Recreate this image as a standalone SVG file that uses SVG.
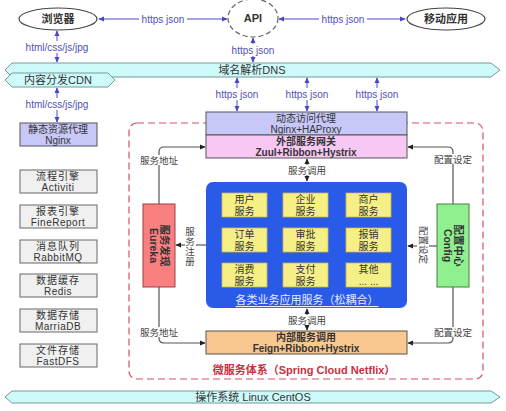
<svg xmlns="http://www.w3.org/2000/svg" width="506" height="411" viewBox="0 0 506 411">
<defs>
<style>
text{font-family:"Liberation Sans","Noto Sans CJK SC",sans-serif;text-anchor:middle;dominant-baseline:central}
.t{font-size:10px;fill:#333}
.b{font-weight:bold}
.lbl{font-size:10px;fill:#5050b8}
.gl{font-size:9.5px;fill:#444}
.bl{stroke:#4848c8;stroke-width:1;fill:none}
.gr{stroke:#555;stroke-width:1.2;fill:none}
.box{stroke:#555;stroke-width:1}
.gray{fill:#f0f0f0;stroke:#666;stroke-width:1}
.yel{fill:#f6ef86;stroke:#c8b850;stroke-width:0.8}
.band{fill:#cffafa;stroke:#6e9c9c;stroke-width:1}
.wb{fill:#fff}
</style>
<marker id="ab" viewBox="0 0 8 8" refX="7" refY="4" markerWidth="6" markerHeight="6" orient="auto-start-reverse" markerUnits="userSpaceOnUse"><path d="M0,0.5 L8,4 L0,7.5 Z" fill="#4848c8"/></marker>
<marker id="ak" viewBox="0 0 8 8" refX="7" refY="4" markerWidth="6" markerHeight="6" orient="auto-start-reverse" markerUnits="userSpaceOnUse"><path d="M0,0.5 L8,4 L0,7.5 Z" fill="#222"/></marker>
</defs>
<rect width="506" height="411" fill="#fff"/>

<!-- boundary -->
<rect x="129" y="123" width="354" height="256" rx="8" fill="none" stroke="#d85060" stroke-width="1.2" stroke-dasharray="7 4"/>
<text x="304" y="370" style="font-size:11px;fill:#c83040;font-weight:bold">微服务体系（Spring Cloud Netflix）</text>

<g id="connectors">
<line class="bl" x1="99" y1="19" x2="227" y2="19" marker-start="url(#ab)" marker-end="url(#ab)"/>
<rect class="wb" x="139" y="13" width="48" height="12"/>
<text class="lbl" x="163" y="19">https json</text>
<line class="bl" x1="279" y1="19" x2="405" y2="19" marker-start="url(#ab)" marker-end="url(#ab)"/>
<rect class="wb" x="319" y="13" width="48" height="12"/>
<text class="lbl" x="343" y="19">https json</text>

<line class="bl" x1="57" y1="31" x2="57" y2="62" marker-start="url(#ab)" marker-end="url(#ab)"/>
<rect class="wb" x="20" y="41" width="74" height="12"/>
<text class="lbl" x="57" y="47">html/css/js/jpg</text>
<line class="bl" x1="253" y1="38" x2="253" y2="62" marker-start="url(#ab)" marker-end="url(#ab)"/>
<rect class="wb" x="229" y="44" width="48" height="12"/>
<text class="lbl" x="253" y="50">https json</text>

<line class="bl" x1="57" y1="88" x2="57" y2="122" marker-start="url(#ab)" marker-end="url(#ab)"/>
<rect class="wb" x="20" y="98" width="74" height="12"/>
<text class="lbl" x="57" y="104">html/css/js/jpg</text>

<line class="bl" x1="237" y1="78" x2="237" y2="111" marker-start="url(#ab)" marker-end="url(#ab)"/>
<rect class="wb" x="213" y="88" width="48" height="12"/>
<text class="lbl" x="237" y="94">https json</text>
<line class="bl" x1="307" y1="78" x2="307" y2="111" marker-start="url(#ab)" marker-end="url(#ab)"/>
<rect class="wb" x="283" y="88" width="48" height="12"/>
<text class="lbl" x="307" y="94">https json</text>
<line class="bl" x1="377" y1="78" x2="377" y2="111" marker-start="url(#ab)" marker-end="url(#ab)"/>
<rect class="wb" x="353" y="88" width="48" height="12"/>
<text class="lbl" x="377" y="94">https json</text>

<line class="gr" x1="307" y1="159" x2="307" y2="181" stroke-width="1" marker-start="url(#ak)" marker-end="url(#ak)"/>
<rect class="wb" x="287" y="165" width="40" height="10"/>
<text class="gl" x="307" y="170">服务调用</text>
<line class="gr" x1="307" y1="309" x2="307" y2="330" stroke-width="1" marker-start="url(#ak)" marker-end="url(#ak)"/>
<rect class="wb" x="287" y="315" width="40" height="10"/>
<text class="gl" x="307" y="320">服务调用</text>

<path class="gr" d="M159,204 V152 Q159,147 164,147 H205" marker-end="url(#ak)"/>
<rect class="wb" x="139" y="155" width="40" height="10"/>
<text class="gl" x="159" y="160">服务地址</text>
<path class="gr" d="M159,287 V338 Q159,343 164,343 H205" marker-end="url(#ak)"/>
<rect class="wb" x="139" y="327" width="40" height="10"/>
<text class="gl" x="159" y="332">服务地址</text>
<path class="gr" d="M453,204 V152 Q453,147 448,147 H408" marker-end="url(#ak)"/>
<rect class="wb" x="433" y="154" width="40" height="10"/>
<text class="gl" x="453" y="159">配置设定</text>
<path class="gr" d="M453,287 V338 Q453,343 448,343 H408" marker-end="url(#ak)"/>
<rect class="wb" x="433" y="327" width="40" height="10"/>
<text class="gl" x="453" y="332">配置设定</text>

<line class="gr" x1="206" y1="245" x2="176" y2="245" stroke-width="1" marker-end="url(#ak)"/>
<rect class="wb" x="185" y="226" width="11" height="40"/>
<text class="gl" x="190" y="231">服</text>
<text class="gl" x="190" y="241">务</text>
<text class="gl" x="190" y="251">注</text>
<text class="gl" x="190" y="261">册</text>
<line class="gr" x1="437" y1="246" x2="408" y2="246" stroke-width="1" marker-end="url(#ak)"/>
<rect class="wb" x="417" y="225" width="12" height="40"/>
<text class="gl" transform="translate(423,245) rotate(90)">配置设定</text>
</g>

<g id="browser">
<ellipse cx="58" cy="19" rx="39" ry="11" fill="#fff" stroke="#444" stroke-width="1.2"/>
<text class="t b" x="58" y="19" style="font-size:11px">浏览器</text>
</g>
<g id="api">
<ellipse cx="253" cy="18" rx="25" ry="19" fill="#fff" stroke="#666" stroke-width="1.2" stroke-dasharray="5 3"/>
<text class="t b" x="253" y="18" style="font-size:11px">API</text>
</g>
<g id="mobile">
<ellipse cx="446" cy="19" rx="39" ry="11" fill="#fff" stroke="#444" stroke-width="1.2"/>
<text class="t b" x="446" y="19" style="font-size:11px">移动应用</text>
</g>

<g id="dns">
<polygon class="band" points="12,63 491,63 500,70 491,77 12,77 5,70"/>
<text class="t" x="252" y="70" style="font-size:11px">域名解析DNS</text>
</g>
<g id="cdn">
<polygon class="band" points="12,73 108,73 115,80 108,87 12,87 5,80"/>
<text class="t" x="58" y="80" style="font-size:11px">内容分发CDN</text>
</g>

<g id="nginx-static">
<rect class="box" x="20" y="123" width="77" height="23" fill="#c8c8f8"/>
<text class="t" x="58" y="129.5">静态资源代理</text>
<text class="t" x="58" y="140">Nginx</text>
</g>
<g id="activiti">
<rect class="gray" x="20" y="170" width="77" height="23"/>
<text class="t" x="58" y="176.5" style="letter-spacing:1px">流程引擎</text>
<text class="t" x="58" y="187" style="letter-spacing:0.5px">Activiti</text>
</g>
<g id="finereport">
<rect class="gray" x="20" y="205" width="77" height="23"/>
<text class="t" x="58" y="211.5" style="letter-spacing:1px">报表引擎</text>
<text class="t" x="58" y="222" style="letter-spacing:0.5px">FineReport</text>
</g>
<g id="rabbitmq">
<rect class="gray" x="20" y="240" width="77" height="23"/>
<text class="t" x="58" y="246.5" style="letter-spacing:1px">消息队列</text>
<text class="t" x="58" y="257" style="letter-spacing:0.5px">RabbitMQ</text>
</g>
<g id="redis">
<rect class="gray" x="20" y="274" width="77" height="23"/>
<text class="t" x="58" y="280.5" style="letter-spacing:1px">数据缓存</text>
<text class="t" x="58" y="291" style="letter-spacing:0.5px">Redis</text>
</g>
<g id="mariadb">
<rect class="gray" x="20" y="309" width="77" height="23"/>
<text class="t" x="58" y="315.5" style="letter-spacing:1px">数据存储</text>
<text class="t" x="58" y="326" style="letter-spacing:0.5px">MarriaDB</text>
</g>
<g id="fastdfs">
<rect class="gray" x="20" y="344" width="77" height="23"/>
<text class="t" x="58" y="350.5" style="letter-spacing:1px">文件存储</text>
<text class="t" x="58" y="361" style="letter-spacing:0.5px">FastDFS</text>
</g>

<g id="proxy">
<rect class="box" x="206" y="112" width="201" height="23" fill="#c8c8f8"/>
<text class="t" x="306" y="118.5">动态访问代理</text>
<text class="t" x="306" y="129">Nginx+HAProxy</text>
</g>
<g id="gateway">
<rect class="box" x="206" y="135" width="201" height="23" fill="#f8c8f4"/>
<text class="t b" x="306" y="141.5">外部服务网关</text>
<text class="t b" x="306" y="152">Zuul+Ribbon+Hystrix</text>
</g>

<g id="services">
<rect x="206" y="182" width="201" height="126" rx="7" fill="#2a5ae8"/>
<rect class="yel" x="222" y="193" width="45" height="24"/>
<text class="t" x="244.5" y="199.5">用户</text><text class="t" x="244.5" y="211">服务</text>
<rect class="yel" x="283" y="193" width="45" height="24"/>
<text class="t" x="305.5" y="199.5">企业</text><text class="t" x="305.5" y="211">服务</text>
<rect class="yel" x="346" y="193" width="45" height="24"/>
<text class="t" x="368.5" y="199.5">商户</text><text class="t" x="368.5" y="211">服务</text>
<rect class="yel" x="222" y="228" width="45" height="24"/>
<text class="t" x="244.5" y="234.5">订单</text><text class="t" x="244.5" y="246">服务</text>
<rect class="yel" x="283" y="228" width="45" height="24"/>
<text class="t" x="305.5" y="234.5">审批</text><text class="t" x="305.5" y="246">服务</text>
<rect class="yel" x="346" y="228" width="45" height="24"/>
<text class="t" x="368.5" y="234.5">报销</text><text class="t" x="368.5" y="246">服务</text>
<rect class="yel" x="222" y="263" width="45" height="24"/>
<text class="t" x="244.5" y="269.5">消费</text><text class="t" x="244.5" y="281">服务</text>
<rect class="yel" x="283" y="263" width="45" height="24"/>
<text class="t" x="305.5" y="269.5">支付</text><text class="t" x="305.5" y="281">服务</text>
<rect class="yel" x="346" y="263" width="45" height="24"/>
<text class="t" x="368.5" y="269.5">其他</text><text class="t" x="368.5" y="281">... ...</text>
<text x="307" y="300" style="font-size:11px;fill:#e6ecff;text-decoration:underline">各类业务应用服务（松耦合）</text>
</g>

<g id="internal">
<rect class="box" x="206" y="331" width="201" height="23" fill="#f8c890"/>
<text class="t b" x="306" y="337.5">内部服务调用</text>
<text class="t b" x="306" y="348">Feign+Ribbon+Hystrix</text>
</g>

<g id="eureka">
<rect x="143" y="204" width="32" height="83" fill="#f88080" stroke="#a04040" stroke-width="1"/>
<text class="t b" transform="translate(159,245.5) rotate(90)" style="font-size:10.5px"><tspan x="0" y="-5.5">服务发现</tspan><tspan x="0" y="5.5">Eureka</tspan></text>
</g>
<g id="config">
<rect x="437" y="204" width="32" height="83" fill="#90f090" stroke="#408040" stroke-width="1"/>
<text class="t b" transform="translate(453,245.5) rotate(90)" style="font-size:10.5px"><tspan x="0" y="-5.5">配置中心</tspan><tspan x="0" y="5.5">Config</tspan></text>
</g>

<g id="os">
<polygon class="band" points="12,391 491,391 500,397 491,403 12,403 5,397"/>
<text class="t" x="253" y="397" style="font-size:11px">操作系统 Linux CentOS</text>
</g>
</svg>
